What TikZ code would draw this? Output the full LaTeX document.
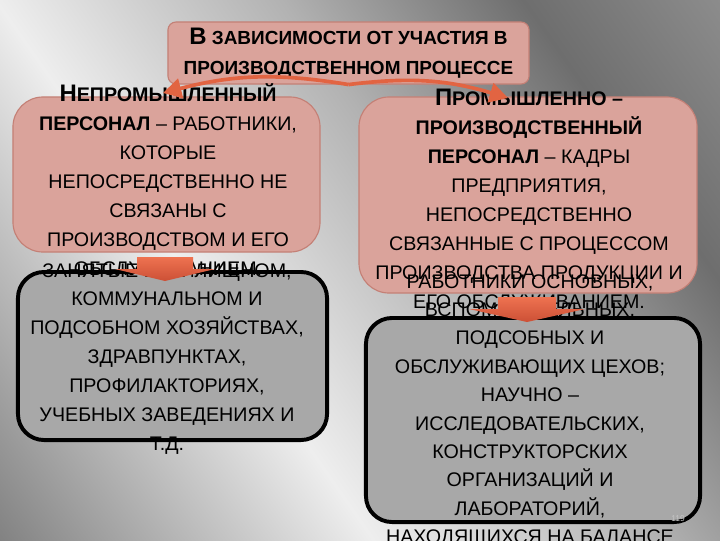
\documentclass[tikz,border=0pt]{standalone}
\usepackage{fontspec}
\setmainfont{Liberation Sans}
\usetikzlibrary{positioning, arrows.meta, calc}

\definecolor{salmon}{RGB}{218,163,155}
\definecolor{salmonline}{RGB}{196,128,118}
\definecolor{boxgray}{RGB}{168,168,168}
\definecolor{arrowred}{RGB}{226,100,66}
\definecolor{arrowtop}{RGB}{238,114,80}
\definecolor{arrowbot}{RGB}{204,80,54}
\definecolor{bgleft}{RGB}{130,130,130}
\definecolor{bgwhite}{RGB}{238,238,238}
\definecolor{bgmid}{RGB}{178,178,178}
\definecolor{bgdark}{RGB}{110,110,110}
\definecolor{bgtop}{RGB}{140,140,140}

\pgfdeclarehorizontalshading{backdrop}{100bp}{color(0bp)=(bgleft); color(25bp)=(bgleft); color(42bp)=(bgwhite); color(55bp)=(bgmid); color(66bp)=(bgdark); color(75bp)=(bgtop); color(100bp)=(bgtop)}

\newcommand{\capletter}[1]{{\fontsize{17}{20}\selectfont #1}}

\begin{document}
\begin{tikzpicture}[x=0.025cm, y=-0.025cm,
    salmonbox/.style={draw=salmonline, line width=0.8pt, fill=salmon, rounded corners=0.75cm, inner sep=0pt},
    topbox/.style={salmonbox, rounded corners=0.2cm, align=center, font=\bfseries\fontsize{13.5}{21.3}\selectfont},
    graybox/.style={draw=black, line width=2.8pt, fill=boxgray, rounded corners=0.65cm, inner sep=0pt},
    bodytxt/.style={align=center, inner sep=0pt, font=\fontsize{14}{20.6}\selectfont},
    curvarr/.style={draw=arrowred, line width=2.6pt, -{Triangle[length=13pt,width=14pt]}},
    blockarr/.style={top color=arrowtop, bottom color=arrowbot}]

	% background
	\useasboundingbox (0,0) rectangle (720,540);
	\begin{scope}
		\clip (0,0) rectangle (720,540);
		\begin{scope}[transform canvas={rotate around={35:(360,270)}}]
			\shade[shading=backdrop] (-90,-170) rectangle (810,710);
		\end{scope}
	\end{scope}

	\node[topbox, minimum width=9.025cm, minimum height=1.55cm] (top) at (348.5,53) {\capletter{В} ЗАВИСИМОСТИ ОТ УЧАСТИЯ В\\ПРОИЗВОДСТВЕННОМ ПРОЦЕССЕ};

	\node[salmonbox, minimum width=7.675cm, minimum height=3.875cm] (lsalmon) at (166.5,174.5) {};
	\node[salmonbox, minimum width=8.45cm, minimum height=4.9cm] (rsalmon) at (528,195) {};
	\node[graybox, minimum width=7.725cm, minimum height=4.2cm] (lgray) at (172.5,356) {};
	\node[graybox, minimum width=8.35cm, minimum height=5.1cm] (rgray) at (533,420) {};

	\node[bodytxt] (ltxt) at (168,180) {\textbf{\capletter{Н}ЕПРОМЫШЛЕННЫЙ}\\\textbf{ПЕРСОНАЛ} – РАБОТНИКИ,\\КОТОРЫЕ\\НЕПОСРЕДСТВЕННО НЕ\\СВЯЗАНЫ С\\ПРОИЗВОДСТВОМ И ЕГО\\ОБСЛУЖИВАНИЕМ.};
	\node[bodytxt] (rtxt) at (529,199) {\textbf{\capletter{П}РОМЫШЛЕННО –}\\\textbf{ПРОИЗВОДСТВЕННЫЙ}\\\textbf{ПЕРСОНАЛ} – КАДРЫ\\ПРЕДПРИЯТИЯ,\\НЕПОСРЕДСТВЕННО\\СВЯЗАННЫЕ С ПРОЦЕССОМ\\ПРОИЗВОДСТВА ПРОДУКЦИИ И\\ЕГО ОБСЛУЖИВАНИЕМ.};
	\node[bodytxt] (lgtxt) at (167,359) {ЗАНЯТЫЕ В ЖИЛИЩНОМ,\\КОММУНАЛЬНОМ И\\ПОДСОБНОМ ХОЗЯЙСТВАХ,\\ЗДРАВПУНКТАХ,\\ПРОФИЛАКТОРИЯХ,\\УЧЕБНЫХ ЗАВЕДЕНИЯХ И\\Т.Д.};
	\node[bodytxt, font=\fontsize{14}{20.2}\selectfont] (rgtxt) at (530,411) {РАБОТНИКИ ОСНОВНЫХ,\\ВСПОМОГАТЕЛЬНЫХ,\\ПОДСОБНЫХ И\\ОБСЛУЖИВАЮЩИХ ЦЕХОВ;\\НАУЧНО –\\ИССЛЕДОВАТЕЛЬСКИХ,\\КОНСТРУКТОРСКИХ\\ОРГАНИЗАЦИЙ И\\ЛАБОРАТОРИЙ,\\НАХОДЯЩИХСЯ НА БАЛАНСЕ};

	\node[font=\fontsize{6}{7}\selectfont, text=gray!45] (pnum) at (678,519) {119};

	% arrows
	\coordinate (lhead) at (163,93);
	\coordinate (rhead) at (508,98);
	\draw[curvarr] (top.south) to[bend right=12] (lhead);
	\draw[curvarr] (top.south) to[bend left=12] (rhead);

	\coordinate (larr) at (165,257);
	\coordinate (rarr) at (527,297);
	\shade[blockarr] (larr) ++(-28,0) -- ++(56,0) -- ++(0,12) -- ++(22,0) -- ++(-50,12) -- ++(-50,-12) -- ++(22,0) -- cycle;
	\shade[blockarr] (rarr) ++(-29,0) -- ++(58,0) -- ++(0,12) -- ++(29,0) -- ++(-58,13) -- ++(-58,-13) -- ++(29,0) -- cycle;

\end{tikzpicture}
\end{document}
